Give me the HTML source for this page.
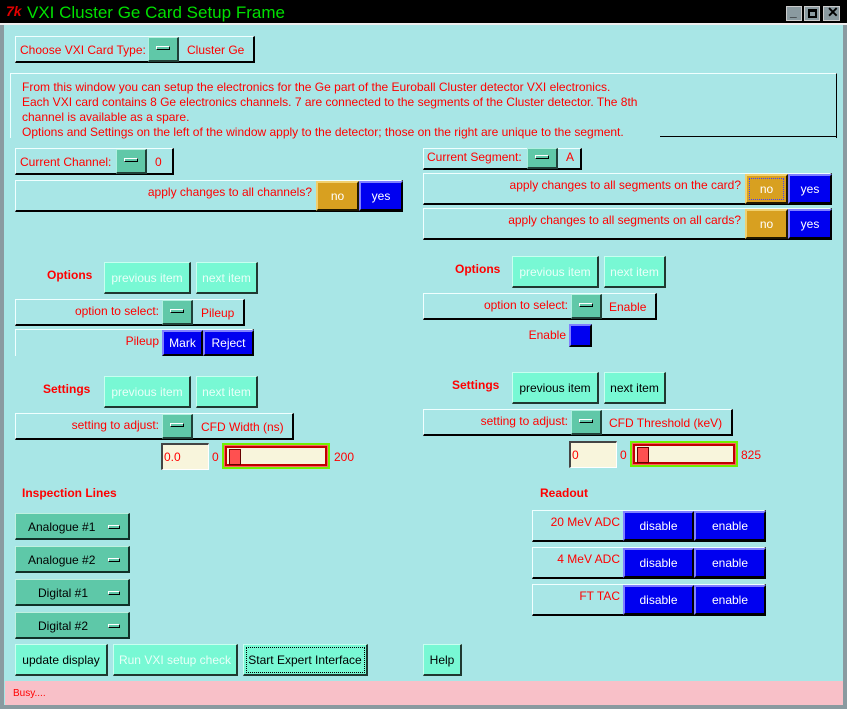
<!DOCTYPE html>
<html><head><style>
body{margin:0;width:847px;height:709px;background:#000;overflow:hidden;font-family:"Liberation Sans",sans-serif;font-size:12px;color:#f00}
.a{position:absolute;box-sizing:border-box}
.win{left:0;top:0;width:847px;height:709px;background:#a8e6e6;border:4px solid #8a9aa0;border-top:none}
.tb{left:0;top:0;width:847px;height:25px;background:#000;border-bottom:2px solid #eee}
.box{border-top:1px solid #f0ffff;border-left:1px solid #f0ffff;border-bottom:2px solid #000;border-right:2px solid #000}
.btn{background:#78f8d4;border-top:1px solid #c8fff0;border-left:1px solid #c8fff0;border-bottom:2px solid #203830;border-right:2px solid #203830;display:flex;align-items:center;justify-content:center;color:#000}
.dis{color:#e8fff8}
.mb{background:#60c8a8;border-top:1px solid #b0f0e0;border-left:1px solid #b0f0e0;border-bottom:2px solid #204038;border-right:2px solid #204038}
.mb::after{content:"";position:absolute;left:50%;top:50%;width:14px;height:4px;margin:-3px 0 0 -7px;border:1px solid #000;border-top-color:#fff;border-left-color:#fff;box-sizing:border-box}
.no{background:#d8a020;border:2px solid #201800;border-top-color:#f0d070;border-left-color:#f0d070;color:#fff;display:flex;align-items:center;justify-content:center}
.yes{background:#0000f0;border:2px solid #000;border-top-color:#8080ff;border-left-color:#8080ff;color:#fff;display:flex;align-items:center;justify-content:center}
.t{position:absolute;white-space:nowrap;line-height:14px}
.r{position:absolute;white-space:nowrap;line-height:14px;text-align:right}
.b{font-weight:bold}
.ent{background:#f8f5dc;border-top:2px solid #444;border-left:2px solid #444;border-bottom:1px solid #fff;border-right:1px solid #fff}
.sc{background:#70f000;padding:3px}
.sc div{width:100%;height:100%;box-sizing:border-box;border:2px solid #c00000;background:#f8f5dc;position:relative;outline:1px solid #ff6060}
.sc span{position:absolute;left:2px;top:1px;width:10px;height:14px;background:#ff5050;border:1px solid #600}
.ins{background:#5ec8a8;border-top:1px solid #c0f0e0;border-left:1px solid #c0f0e0;border-bottom:2px solid #103028;border-right:2px solid #103028;color:#000}
.ins::after{content:"";position:absolute;right:8px;top:11px;width:12px;height:4px;border:1px solid #000;border-top-color:#fff;border-left-color:#fff;box-sizing:border-box}
</style></head><body>
<div class="a win"></div>
<div class="a tb"></div>
<div class="t" style="left:6px;top:4px;color:#e00000;font-weight:bold;font-style:italic;font-size:14px">7k</div>
<div class="t" style="left:27px;top:4px;color:#00e000;font-size:17px;line-height:18px">VXI Cluster Ge Card Setup Frame</div>
<div class="a" style="left:786px;top:6px;width:16px;height:15px;background:#8a9aa0;border:1px solid #ccc"></div>
<div class="a" style="left:804px;top:6px;width:16px;height:15px;background:#8a9aa0;border:1px solid #ccc"></div>
<div class="a" style="left:823px;top:6px;width:17px;height:15px;background:#8a9aa0;border:1px solid #ccc"></div>
<div class="t" style="left:790px;top:5px;color:#000;font-weight:bold">_</div>
<div class="a" style="left:808px;top:9px;width:9px;height:9px;border:2px solid #000;border-top-width:3px"></div>
<div class="t" style="left:827px;top:5px;color:#000;font-weight:bold;font-size:14px">✕</div>

<div class="a box" style="left:15px;top:36px;width:240px;height:27px"></div>
<div class="t" style="left:20px;top:43px">Choose VXI Card Type:</div>
<div class="a mb" style="left:148px;top:37px;width:31px;height:25px"></div>
<div class="t" style="left:187px;top:43px">Cluster Ge</div>

<div class="a" style="left:10px;top:73px;width:827px;height:65px;border-top:1px solid #f0ffff;border-left:1px solid #f0ffff;border-right:1px solid #000"></div>
<div class="a" style="left:660px;top:136px;width:177px;height:1px;background:#000"></div>
<div class="t" style="left:22px;top:80px;line-height:15px">From this window you can setup the electronics for the Ge part of the Euroball Cluster detector VXI electronics.<br>Each VXI card contains 8 Ge electronics channels. 7 are connected to the segments of the Cluster detector. The 8th<br>channel is available as a spare.<br>Options and Settings on the left of the window apply to the detector; those on the right are unique to the segment.</div>

<div class="a box" style="left:15px;top:148px;width:159px;height:27px"></div>
<div class="t" style="left:20px;top:155px">Current Channel:</div>
<div class="a mb" style="left:116px;top:149px;width:31px;height:25px"></div>
<div class="t" style="left:155px;top:155px">0</div>

<div class="a box" style="left:15px;top:180px;width:388px;height:32px"></div>
<div class="r" style="right:535px;top:185px">apply changes to all channels?</div>
<div class="a no" style="left:316px;top:181px;width:43px;height:30px">no</div>
<div class="a yes" style="left:359px;top:181px;width:44px;height:30px">yes</div>

<div class="a box" style="left:423px;top:148px;width:159px;height:22px"></div>
<div class="t" style="left:427px;top:150px">Current Segment:</div>
<div class="a mb" style="left:527px;top:148px;width:31px;height:21px"></div>
<div class="t" style="left:566px;top:150px">A</div>

<div class="a box" style="left:423px;top:173px;width:409px;height:32px"></div>
<div class="r" style="right:106px;top:178px">apply changes to all segments on the card?</div>
<div class="a no" style="left:745px;top:174px;width:43px;height:30px;outline:1px dotted #4040ff;outline-offset:-5px">no</div>
<div class="a yes" style="left:788px;top:174px;width:44px;height:30px">yes</div>

<div class="a box" style="left:423px;top:208px;width:409px;height:32px"></div>
<div class="r" style="right:106px;top:213px">apply changes to all segments on all cards?</div>
<div class="a no" style="left:745px;top:209px;width:43px;height:30px">no</div>
<div class="a yes" style="left:788px;top:209px;width:44px;height:30px">yes</div>

<div class="t b" style="left:47px;top:268px">Options</div>
<div class="a btn dis" style="left:104px;top:262px;width:87px;height:32px">previous item</div>
<div class="a btn dis" style="left:196px;top:262px;width:62px;height:32px">next item</div>
<div class="a box" style="left:15px;top:299px;width:230px;height:27px"></div>
<div class="r" style="right:688px;top:304px">option to select:</div>
<div class="a mb" style="left:162px;top:300px;width:31px;height:25px"></div>
<div class="t" style="left:201px;top:306px">Pileup</div>
<div class="a" style="left:15px;top:329px;width:239px;height:27px;border-top:1px solid #f0ffff;border-left:1px solid #f0ffff;border-right:2px solid #000"></div>
<div class="r" style="right:688px;top:334px">Pileup</div>
<div class="a yes" style="left:162px;top:330px;width:41px;height:26px">Mark</div>
<div class="a yes" style="left:203px;top:330px;width:51px;height:26px">Reject</div>

<div class="t b" style="left:43px;top:382px">Settings</div>
<div class="a btn dis" style="left:104px;top:376px;width:87px;height:32px">previous item</div>
<div class="a btn dis" style="left:196px;top:376px;width:62px;height:32px">next item</div>
<div class="a box" style="left:15px;top:413px;width:279px;height:27px"></div>
<div class="r" style="right:688px;top:418px">setting to adjust:</div>
<div class="a mb" style="left:162px;top:414px;width:31px;height:25px"></div>
<div class="t" style="left:201px;top:420px">CFD Width (ns)</div>
<div class="a ent" style="left:161px;top:443px;width:48px;height:27px"></div>
<div class="t" style="left:164px;top:450px">0.0</div>
<div class="t" style="left:212px;top:450px">0</div>
<div class="a sc" style="left:222px;top:443px;width:108px;height:26px"><div><span></span></div></div>
<div class="t" style="left:334px;top:450px">200</div>

<div class="t b" style="left:455px;top:262px">Options</div>
<div class="a btn dis" style="left:512px;top:256px;width:87px;height:32px">previous item</div>
<div class="a btn dis" style="left:604px;top:256px;width:62px;height:32px">next item</div>
<div class="a box" style="left:423px;top:293px;width:234px;height:27px"></div>
<div class="r" style="right:279px;top:298px">option to select:</div>
<div class="a mb" style="left:571px;top:294px;width:31px;height:25px"></div>
<div class="t" style="left:609px;top:300px">Enable</div>
<div class="r" style="right:281px;top:328px">Enable</div>
<div class="a yes" style="left:569px;top:324px;width:23px;height:23px"></div>

<div class="t b" style="left:452px;top:378px">Settings</div>
<div class="a btn" style="left:512px;top:372px;width:87px;height:32px">previous item</div>
<div class="a btn" style="left:604px;top:372px;width:62px;height:32px">next item</div>
<div class="a box" style="left:423px;top:409px;width:310px;height:27px"></div>
<div class="r" style="right:279px;top:414px">setting to adjust:</div>
<div class="a mb" style="left:571px;top:410px;width:31px;height:25px"></div>
<div class="t" style="left:609px;top:416px">CFD Threshold (keV)</div>
<div class="a ent" style="left:569px;top:441px;width:48px;height:27px"></div>
<div class="t" style="left:572px;top:448px">0</div>
<div class="t" style="left:620px;top:448px">0</div>
<div class="a sc" style="left:630px;top:441px;width:108px;height:26px"><div><span></span></div></div>
<div class="t" style="left:741px;top:448px">825</div>

<div class="t b" style="left:22px;top:486px">Inspection Lines</div>
<div class="a ins" style="left:15px;top:513px;width:115px;height:27px"><div class="t" style="left:12px;top:6px">Analogue #1</div></div>
<div class="a ins" style="left:15px;top:546px;width:115px;height:27px"><div class="t" style="left:12px;top:6px">Analogue #2</div></div>
<div class="a ins" style="left:15px;top:579px;width:115px;height:27px"><div class="t" style="left:22px;top:6px">Digital #1</div></div>
<div class="a ins" style="left:15px;top:612px;width:115px;height:27px"><div class="t" style="left:22px;top:6px">Digital #2</div></div>

<div class="a btn" style="left:15px;top:644px;width:93px;height:32px">update display</div>
<div class="a btn dis" style="left:113px;top:644px;width:125px;height:32px">Run VXI setup check</div>
<div class="a btn" style="left:243px;top:644px;width:125px;height:32px;outline:1px dotted #000;outline-offset:-4px">Start Expert Interface</div>
<div class="a btn" style="left:423px;top:644px;width:39px;height:32px">Help</div>

<div class="t b" style="left:540px;top:486px">Readout</div>
<div class="a box" style="left:532px;top:510px;width:234px;height:32px"></div>
<div class="r" style="right:227px;top:515px">20 MeV ADC</div>
<div class="a yes" style="left:623px;top:511px;width:71px;height:30px">disable</div>
<div class="a yes" style="left:694px;top:511px;width:72px;height:30px">enable</div>
<div class="a box" style="left:532px;top:547px;width:234px;height:32px"></div>
<div class="r" style="right:227px;top:552px">4 MeV ADC</div>
<div class="a yes" style="left:623px;top:548px;width:71px;height:30px">disable</div>
<div class="a yes" style="left:694px;top:548px;width:72px;height:30px">enable</div>
<div class="a box" style="left:532px;top:584px;width:234px;height:32px"></div>
<div class="r" style="right:227px;top:589px">FT TAC</div>
<div class="a yes" style="left:623px;top:585px;width:71px;height:30px">disable</div>
<div class="a yes" style="left:694px;top:585px;width:72px;height:30px">enable</div>

<div class="a" style="left:5px;top:681px;width:838px;height:24px;background:#f8c0c8"></div>
<div class="t" style="left:13px;top:687px;font-size:10px">Busy....</div>
</body></html>
